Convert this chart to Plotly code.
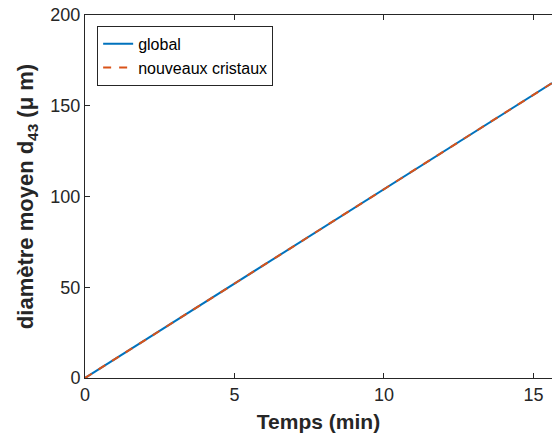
import plotly.graph_objects as go

temps = [0, 5, 10, 15.62]
d43_global = [0, 52.0, 104.0, 162.5]
d43_nouveaux = [0, 52.0, 104.0, 162.5]
x_ticks = [0, 5, 10, 15]
y_ticks = [0, 50, 100, 150, 200]

fig = go.Figure()
fig.add_trace(go.Scatter(x=temps, y=d43_global, mode="lines", name="global",
                         line=dict(color="#0072BD", width=2)))
fig.add_trace(go.Scatter(x=temps, y=d43_nouveaux, mode="lines", name="nouveaux cristaux",
                         line=dict(color="#D95319", width=2, dash="8px,8px")))

axis_color = "#262626"
font_fam = "Liberation Sans, Arial, sans-serif"
fig.update_layout(
    width=552, height=439,
    margin=dict(l=85, r=0, t=15, b=61),
    paper_bgcolor="white", plot_bgcolor="white",
    font=dict(family=font_fam, color=axis_color, size=18),
    showlegend=True,
    legend=dict(x=0.026, y=0.97, xanchor="left", yanchor="top",
                bgcolor="white", bordercolor=axis_color, borderwidth=1,
                font=dict(size=16, color="black"), tracegroupgap=0,
                itemwidth=30),
    xaxis=dict(range=[0, 15.62], tickvals=x_ticks, ticks="inside", ticklen=5,
               tickcolor=axis_color, showline=True, linecolor=axis_color,
               linewidth=1, mirror="ticks", showgrid=False, zeroline=False,
               automargin=False,
               tickfont=dict(size=18, color=axis_color),
               title=dict(text="<b>Temps (min)</b>", font=dict(size=21, color=axis_color),
                          standoff=10)),
    yaxis=dict(range=[0, 200], tickvals=y_ticks, ticks="inside", ticklen=5,
               tickcolor=axis_color, showline=True, linecolor=axis_color,
               linewidth=1, mirror=False, showgrid=False, zeroline=False,
               automargin=False,
               tickfont=dict(size=18, color=axis_color),
               title=dict(text="<b>diamètre moyen d<sub>43</sub> (μ m)</b>",
                          font=dict(size=22, color=axis_color), standoff=10)),
)
fig.write_html("out.html", config={"displayModeBar": False},
               post_script="document.body.style.margin='0';")
